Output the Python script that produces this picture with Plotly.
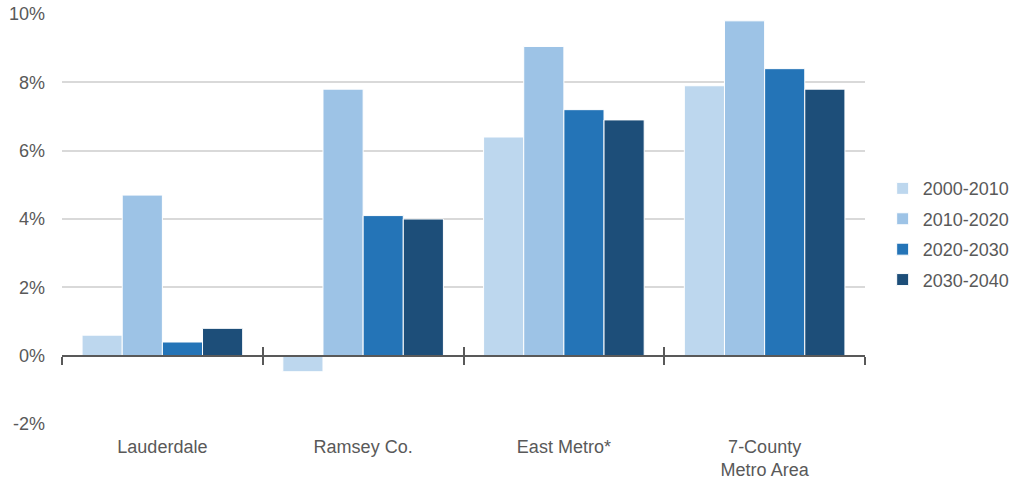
import plotly.graph_objects as go

# Population growth rate by decade (percent)
areas = ["Lauderdale", "Ramsey Co.", "East Metro*", "7-County<br>Metro Area"]
periods = ["2000-2010", "2010-2020", "2020-2030", "2030-2040"]
growth_2000_2010 = [0.6, -0.47, 6.4, 7.9]
growth_2010_2020 = [4.7, 7.8, 9.05, 9.8]
growth_2020_2030 = [0.4, 4.1, 7.2, 8.4]
growth_2030_2040 = [0.8, 4.0, 6.9, 7.8]
series = [growth_2000_2010, growth_2010_2020, growth_2020_2030, growth_2030_2040]
colors = ["#BDD7EE", "#9DC3E6", "#2474B7", "#1D4E79"]

y_ticks = [-2, 0, 2, 4, 6, 8, 10]
y_tick_text = [f"{v}%" for v in y_ticks]
boundaries = [i - 0.5 for i in range(len(areas) + 1)]

FONT = "Liberation Sans, Arial, sans-serif"
GREY = "#595959"
SIZE = 18

fig = go.Figure()
for name, vals, col in zip(periods, series, colors):
    fig.add_trace(go.Bar(
        x=areas, y=vals, name=name, legendgroup=name,
        marker=dict(color=col, line=dict(color="white", width=1)),
    ))

# Invisible traces so the zero-line axes (with boundary ticks) are drawn
for ax in ("x2", "x3"):
    fig.add_trace(go.Scatter(x=[None], y=[None], xaxis=ax, yaxis="y",
                             showlegend=False, hoverinfo="skip"))

zero_pos = (0 - y_ticks[0]) / (y_ticks[-1] - y_ticks[0])
zero_axis = dict(
    overlaying="x", anchor="free", position=zero_pos, type="linear",
    range=[-0.5, len(areas) - 0.5], tickmode="array", tickvals=boundaries,
    ticklen=8, tickwidth=1.5, tickcolor=GREY,
    showline=True, linecolor=GREY, linewidth=2,
    showticklabels=False, showgrid=False, zeroline=False,
)

fig.update_layout(
    width=1017, height=484,
    margin=dict(l=62, r=152, t=14, b=60, autoexpand=False),
    paper_bgcolor="white", plot_bgcolor="white",
    barmode="group", bargap=0.2, bargroupgap=0,
    font=dict(family=FONT, size=SIZE, color=GREY),
    xaxis=dict(type="category", showgrid=False, showline=False, zeroline=False,
               ticks="", ticklabelstandoff=10,
               tickfont=dict(family=FONT, size=SIZE, color=GREY)),
    xaxis2=dict(zero_axis, ticks="outside"),
    xaxis3=dict(zero_axis, ticks="inside"),
    yaxis=dict(range=[y_ticks[0], y_ticks[-1]], tickmode="array", tickvals=y_ticks,
               ticktext=y_tick_text, showgrid=True, gridcolor="#D9D9D9", gridwidth=1.5,
               zeroline=False, showline=False, ticks="", ticklabelstandoff=16,
               tickfont=dict(family=FONT, size=SIZE, color=GREY)),
    legend=dict(x=1.022, y=0.463, xanchor="left", yanchor="middle",
                tracegroupgap=4, font=dict(family=FONT, size=SIZE, color=GREY),
                itemclick=False),
    showlegend=True,
)

fig.write_html("out.html")
